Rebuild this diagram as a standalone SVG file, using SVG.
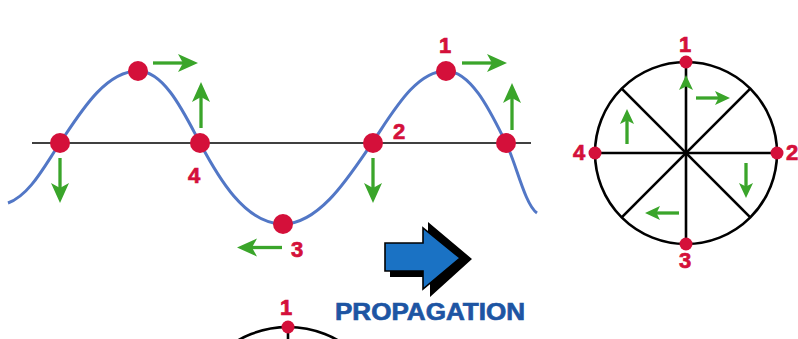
<svg xmlns="http://www.w3.org/2000/svg" xmlns:xlink="http://www.w3.org/1999/xlink" width="798" height="339" viewBox="0 0 798 339">
<style>
.dot{fill:#d4103a}
.lbl{font-family:"Liberation Sans",Arial,sans-serif;font-weight:bold;font-size:22px;fill:#d4103a;stroke:#d4103a;stroke-width:0.7;text-anchor:middle}
.gs{stroke:#3aa52a;stroke-width:3.3;fill:none}
.gh{fill:#3aa52a}
.blk{stroke:#000;stroke-width:2.6;fill:none}
.wave{stroke:#5277c6;stroke-width:3;fill:none}
</style>
<defs>
<path id="hd" d="M0,0 L-20,-9 L-15,0 L-20,9 Z"/>
<path id="hs" d="M0,0 L-15,-7 L-11.5,0 L-15,7 Z"/>
</defs>
<rect width="798" height="339" fill="#fff"/>

<g id="wave">
<line x1="32" y1="143" x2="531" y2="143" stroke="#000" stroke-width="1.6"/>
<path class="wave" d="M8,203 C30,195 45,165 60,143 C80,113 105,71 138,71 C165,71 185,115 200,143 C218,177 245,224 283,224 C320,224 350,175 372,143 C392,114 415,71 446,71 C472,71 492,115 506,143 C516,163 525,205 537,213"/>
</g>

<g id="connectors">
<line class="gs" x1="60" y1="158" x2="60" y2="188"/><use href="#hd" class="gh" transform="translate(60,203) rotate(90)"/>
<line class="gs" x1="153" y1="63" x2="183" y2="63"/><use href="#hd" class="gh" transform="translate(198,63)"/>
<line class="gs" x1="201" y1="128" x2="201" y2="97"/><use href="#hd" class="gh" transform="translate(201,82) rotate(-90)"/>
<line class="gs" x1="282" y1="247.5" x2="252" y2="247.5"/><use href="#hd" class="gh" transform="translate(237,247.5) rotate(180)"/>
<line class="gs" x1="373" y1="158" x2="373" y2="188"/><use href="#hd" class="gh" transform="translate(373,203) rotate(90)"/>
<line class="gs" x1="462" y1="63" x2="492" y2="63"/><use href="#hd" class="gh" transform="translate(507,63)"/>
<line class="gs" x1="512" y1="130" x2="512" y2="98"/><use href="#hd" class="gh" transform="translate(512,83) rotate(-90)"/>
</g>

<g id="wave-points">
<circle class="dot" cx="60" cy="143" r="10"/>
<circle class="dot" cx="138" cy="71" r="10"/>
<circle class="dot" cx="200" cy="143" r="10"/>
<circle class="dot" cx="283" cy="224" r="10"/>
<circle class="dot" cx="373" cy="143" r="10"/>
<circle class="dot" cx="446" cy="71" r="10"/>
<circle class="dot" cx="506" cy="143" r="10"/>
<text class="lbl" x="194" y="183">4</text>
<text class="lbl" x="399" y="139">2</text>
<text class="lbl" x="445" y="53">1</text>
<text class="lbl" x="297" y="257">3</text>
</g>

<g id="phase-circle">
<circle class="blk" cx="686" cy="153" r="91"/>
<line class="blk" x1="686" y1="62" x2="686" y2="244"/>
<line class="blk" x1="595" y1="153" x2="777" y2="153"/>
<line class="blk" x1="621.7" y1="88.7" x2="750.3" y2="217.3"/>
<line class="blk" x1="750.3" y1="88.7" x2="621.7" y2="217.3"/>
<use href="#hs" class="gh" transform="translate(686,75) rotate(-90)"/>
<line class="gs" x1="696" y1="98" x2="719" y2="98"/><use href="#hs" class="gh" transform="translate(730,98)"/>
<line class="gs" x1="627" y1="144" x2="627" y2="120"/><use href="#hs" class="gh" transform="translate(627,109) rotate(-90)"/>
<line class="gs" x1="746" y1="163" x2="746" y2="187"/><use href="#hs" class="gh" transform="translate(746,198) rotate(90)"/>
<line class="gs" x1="679" y1="213" x2="656" y2="213"/><use href="#hs" class="gh" transform="translate(645,213) rotate(180)"/>
<circle class="dot" cx="686" cy="62" r="6.5"/>
<circle class="dot" cx="777" cy="153" r="6.5"/>
<circle class="dot" cx="686" cy="244" r="6.5"/>
<circle class="dot" cx="595" cy="153" r="6.5"/>
<text class="lbl" x="685" y="52">1</text>
<text class="lbl" x="792" y="160">2</text>
<text class="lbl" x="685" y="268">3</text>
<text class="lbl" x="579" y="160">4</text>
</g>

<g id="propagation-arrow">
<polygon points="390,249 428,249 428,222 472,259 430,297 430,277 390,277" fill="#000"/>
<polygon points="385,243 423,243 423,228 460,258 423,289 423,271 385,271" fill="#1a72c4" stroke="#000" stroke-width="1.6" stroke-linejoin="miter"/>
<text x="335" y="319.5" font-family="'Liberation Sans',Arial,sans-serif" font-weight="bold" font-size="24" fill="#1d55a3" stroke="#1d55a3" stroke-width="0.7" textLength="190" lengthAdjust="spacingAndGlyphs">PROPAGATION</text>
</g>

<g id="bottom-circle">
<circle class="blk" cx="288" cy="427" r="100"/>
<line class="blk" x1="288" y1="327" x2="288" y2="339"/>
<circle class="dot" cx="288" cy="327" r="6.5"/>
<text class="lbl" x="286" y="315">1</text>
</g>
</svg>
